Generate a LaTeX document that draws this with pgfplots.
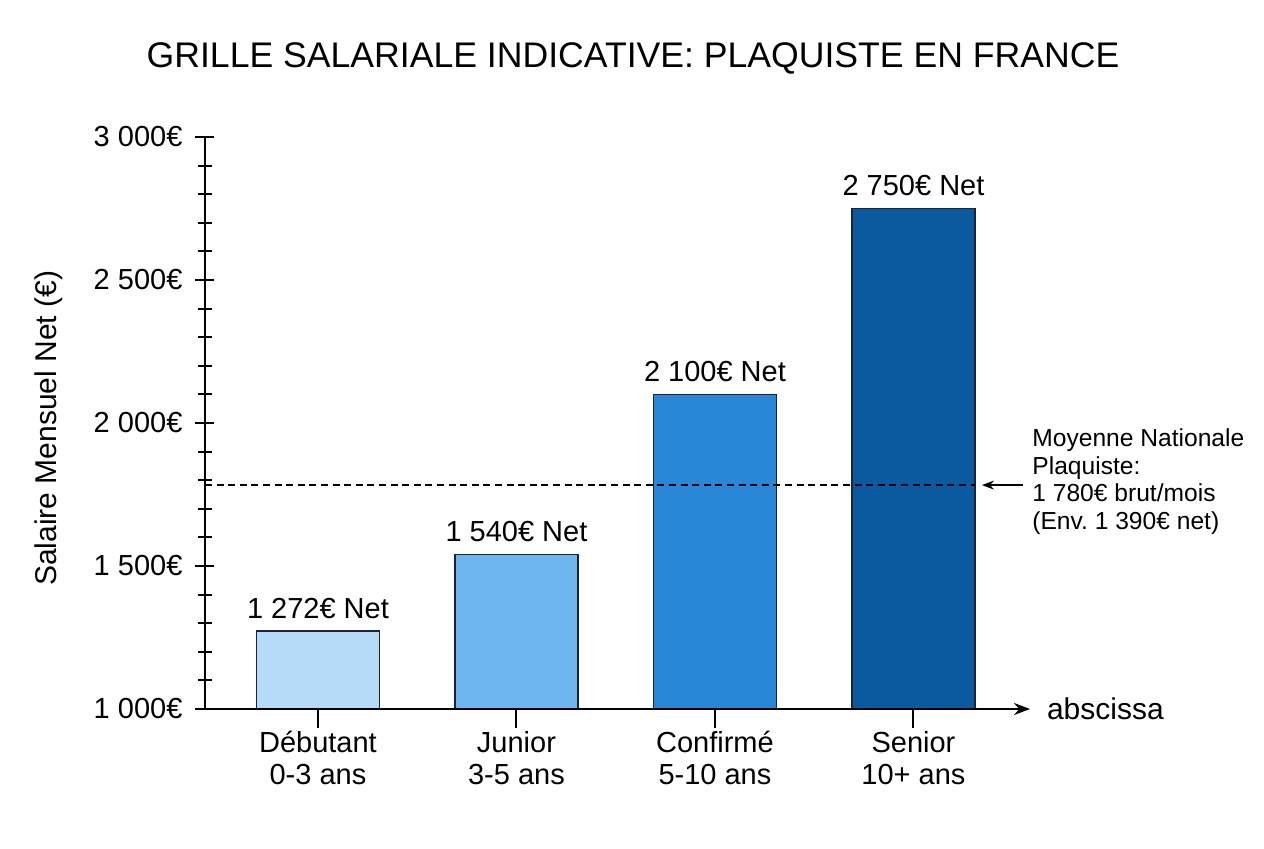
\documentclass[border=0pt]{standalone}
\usepackage{pgfplots}
\pgfplotsset{compat=1.18}
\usetikzlibrary{arrows.meta}
\usepackage{fontspec}
\setmainfont{Liberation Sans}
\definecolor{c1}{HTML}{B5DBF8}
\definecolor{c2}{HTML}{6CB5EF}
\definecolor{c3}{HTML}{2A87D8}
\definecolor{c4}{HTML}{0B5A9F}
\definecolor{edge}{HTML}{1A2433}
\begin{document}
\begin{tikzpicture}
\useasboundingbox (-102.5pt,-69.5pt) rectangle (529.5pt,354.5pt);
\begin{axis}[
  scale only axis, width=412.5pt, height=286pt,
  xmin=-0.569, xmax=3.587, ymin=1000, ymax=3000,
  axis on top,
  axis x line=bottom, axis y line=left,
  axis line style={line width=1pt},
  x axis line style={-{Stealth[length=8pt,width=6pt]}},
  y axis line style={-},
  xtick={0,1,2,3},
  xticklabels={{Débutant\\0-3 ans},{Junior\\3-5 ans},{Confirmé\\5-10 ans},{Senior\\10+ ans}},
  xticklabel style={align=center, font=\fontsize{14.5}{16.2}\selectfont, yshift=2pt},
  ytick={1000,1500,2000,2500,3000},
  yticklabels={1 000€,1 500€,2 000€,2 500€,3 000€},
  yticklabel style={font=\fontsize{14.5}{16}\selectfont, xshift=-3pt},
  minor y tick num=4,
  tick align=center, major tick length=9.5pt, minor tick length=7pt,
  every tick/.style={line width=1pt, black},
  ybar, bar width=61.5pt, bar shift=0pt,
  clip=false,
  point meta=explicit symbolic,
  nodes near coords,
  nodes near coords style={font=\fontsize{14.5}{16}\selectfont, anchor=base, inner sep=0pt, yshift=6.5pt},
  ylabel={Salaire Mensuel Net (€)},
  ylabel style={font=\fontsize{15}{17}\selectfont, at={(axis description cs:-0.189,0.491)}, anchor=center},
  xlabel={abscissa},
  xlabel style={font=\fontsize{15}{17}\selectfont, at={(axis description cs:1,0)}, anchor=west, xshift=5pt},
]
\addplot[fill=c1, draw=edge, line width=0.75pt] coordinates {(0,1272) [1 272€ Net]};
\addplot[fill=c2, draw=edge, line width=0.75pt] coordinates {(1,1540) [1 540€ Net]};
\addplot[fill=c3, draw=edge, line width=0.75pt] coordinates {(2,2100) [2 100€ Net]};
\addplot[fill=c4, draw=edge, line width=0.75pt] coordinates {(3,2750) [2 750€ Net]};
\addplot[sharp plot, black, line width=0.75pt, dash pattern=on 3.5pt off 2.3pt, nodes near coords={}] coordinates {(-0.569,1783) (3.31,1783)};
\addplot[sharp plot, black, line width=0.75pt, -{Stealth[length=6pt,width=4.5pt]}, nodes near coords={}] coordinates {(3.55,1783) (3.345,1783)};
\node[anchor=west, align=left, inner sep=0pt, font=\fontsize{12.3}{13.9}\selectfont] at (axis cs:3.597,1795) {Moyenne Nationale\\Plaquiste:\\1 780€ brut/mois\\(Env.\ 1 390€ net)};
\end{axis}
\node[font=\fontsize{17.8}{20}\selectfont] at (214pt,325.5pt) {GRILLE SALARIALE INDICATIVE: PLAQUISTE EN FRANCE};
\end{tikzpicture}
\end{document}
